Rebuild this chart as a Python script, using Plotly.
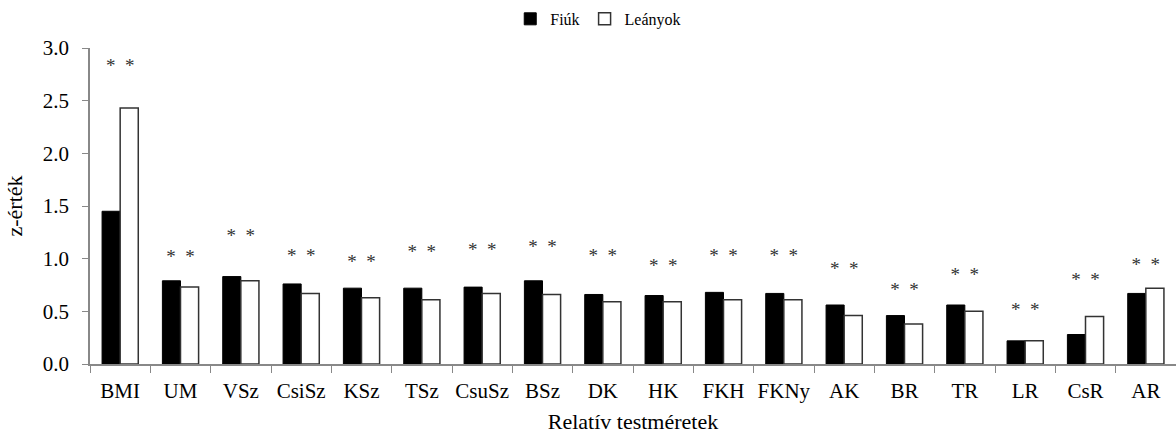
import plotly.graph_objects as go

categories = ["BMI", "UM", "VSz", "CsiSz", "KSz", "TSz", "CsuSz", "BSz", "DK",
              "HK", "FKH", "FKNy", "AK", "BR", "TR", "LR", "CsR", "AR"]
fiuk = [1.45, 0.79, 0.83, 0.76, 0.72, 0.72, 0.73, 0.79, 0.66,
        0.65, 0.68, 0.67, 0.56, 0.46, 0.56, 0.22, 0.28, 0.67]
leanyok = [2.43, 0.73, 0.79, 0.67, 0.63, 0.61, 0.67, 0.66, 0.59,
           0.59, 0.61, 0.61, 0.46, 0.38, 0.50, 0.22, 0.45, 0.72]
star_y = [2.82, 1.00, 1.20, 1.01, 0.96, 1.05, 1.07, 1.10, 1.015,
          0.915, 1.015, 1.015, 0.89, 0.69, 0.83, 0.50, 0.79, 0.93]
star_text = "*  *"
y_ticks = [0.0, 0.5, 1.0, 1.5, 2.0, 2.5, 3.0]

FONT = "Liberation Serif, Times New Roman, serif"
AXIS = "#888888"

fig = go.Figure()
fig.add_trace(go.Bar(x=categories, y=fiuk, name="Fiúk",
                     marker=dict(color="black", line=dict(color="black", width=1))))
fig.add_trace(go.Bar(x=categories, y=leanyok, name="Leányok",
                     marker=dict(color="white", line=dict(color="#333333", width=1.5))))
fig.add_trace(go.Scatter(x=categories, y=star_y, mode="text", text=[star_text] * len(categories),
                         textfont=dict(family=FONT, size=19, color="#333333"),
                         showlegend=False, hoverinfo="skip"))

fig.update_layout(
    width=1176, height=434,
    margin=dict(l=90, r=0, t=48, b=70, autoexpand=False),
    plot_bgcolor="white", paper_bgcolor="white",
    barmode="group", bargap=0.40, bargroupgap=0,
    font=dict(family=FONT, size=20, color="black"),
    legend=dict(orientation="h", x=0.468, xanchor="center", y=1.092, yanchor="middle",
                font=dict(family=FONT, size=16), itemwidth=30,
                traceorder="normal"),
    showlegend=True,
)
fig.update_xaxes(type="category", range=[-0.5, 17.5], tickson="boundaries",
                 ticks="outside", ticklen=7, automargin=False, tickangle=0,
                 tickcolor=AXIS, showline=True, linecolor=AXIS, linewidth=1.5,
                 showgrid=False, tickfont=dict(size=21), ticklabelstandoff=7,
                 title=dict(text="Relatív testméretek", font=dict(size=22), standoff=15))
fig.update_yaxes(range=[0, 3.0], tickvals=y_ticks, tickformat=".1f", ticks="outside",
                 ticklen=6, tickcolor=AXIS, showline=True, linecolor=AXIS, linewidth=1.5,
                 automargin=False, ticklabelstandoff=9,
                 showgrid=False, zeroline=False, tickfont=dict(size=21),
                 title=dict(text="z-érték", font=dict(size=22), standoff=14))

fig.write_html("out.html", config={"displayModeBar": False},
               post_script="document.body.style.margin='0';document.body.style.overflow='hidden';")
